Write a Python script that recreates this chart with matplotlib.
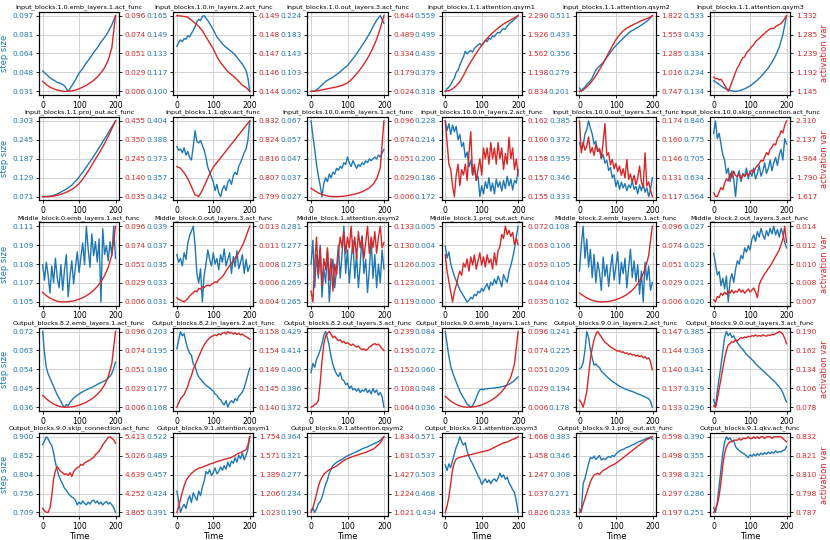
import numpy as np
import matplotlib
matplotlib.use("Agg")
import matplotlib.pyplot as plt
from matplotlib.ticker import FixedLocator, FixedFormatter

BLUE = "#1f77b4"
RED = "#d62728"

titles = [
    "Input_blocks.1.0.emb_layers.1.act_func", "Input_blocks.1.0.in_layers.2.act_func",
    "Input_blocks.1.0.out_layers.3.act_func", "Input_blocks.1.1.attention.qsym1",
    "Input_blocks.1.1.attention.qsym2", "Input_blocks.1.1.attention.qsym3",
    "Input_blocks.1.1.proj_out.act_func", "Input_blocks.1.1.qkv.act_func",
    "Input_blocks.10.0.emb_layers.1.act_func", "Input_blocks.10.0.in_layers.2.act_func",
    "Input_blocks.10.0.out_layers.3.act_func", "Input_blocks.10.0.skip_connection.act_func",
    "Middle_block.0.emb_layers.1.act_func", "Middle_block.0.out_layers.3.act_func",
    "Middle_block.1.attention.qsym2", "Middle_block.1.proj_out.act_func",
    "Middle_block.2.emb_layers.1.act_func", "Middle_block.2.out_layers.3.act_func",
    "Output_blocks.8.2.emb_layers.1.act_func", "Output_blocks.8.2.in_layers.2.act_func",
    "Output_blocks.8.2.out_layers.3.act_func", "Output_blocks.9.0.emb_layers.1.act_func",
    "Output_blocks.9.0.in_layers.2.act_func", "Output_blocks.9.0.out_layers.3.act_func",
    "Output_blocks.9.0.skip_connection.act_func", "Output_blocks.9.1.attention.qsym1",
    "Output_blocks.9.1.attention.qsym2", "Output_blocks.9.1.attention.qsym3",
    "Output_blocks.9.1.proj_out.act_func", "Output_blocks.9.1.qkv.act_func",
]

# ---------------- Row 1 ----------------
p01_step = [0.049, 0.046, 0.043, 0.041, 0.039, 0.038, 0.036, 0.0312, 0.036, 0.041, 0.047,
            0.051, 0.056, 0.060, 0.065, 0.069, 0.074, 0.078, 0.083, 0.089, 0.097]
p01_var = [0.018, 0.014, 0.011, 0.009, 0.0075, 0.0065, 0.006, 0.006, 0.0065, 0.0075, 0.009,
           0.011, 0.013, 0.016, 0.019, 0.023, 0.028, 0.034, 0.043, 0.058, 0.096]
p01_st = ["0.031", "0.048", "0.064", "0.081", "0.097"]
p01_vt = ["0.006", "0.029", "0.051", "0.074", "0.096"]

p02_step = [0.1390, 0.1420, 0.1445, 0.1430, 0.1455, 0.1450, 0.1480, 0.1470, 0.1500, 0.1525,
            0.1560, 0.1600, 0.1620, 0.1610, 0.1645, 0.1652, 0.1630, 0.1610, 0.1585, 0.1560,
            0.1530, 0.1500, 0.1470, 0.1450, 0.1430, 0.1410, 0.1395, 0.1380, 0.1370, 0.1355,
            0.1345, 0.1330, 0.1315, 0.1295, 0.1275, 0.1255, 0.1235, 0.1210, 0.1180, 0.1120, 0.1003]
p02_var = [0.1490, 0.14898, 0.14895, 0.1489, 0.1487, 0.1485, 0.1483, 0.1480, 0.1476, 0.1472,
           0.1468, 0.1463, 0.1459, 0.1456, 0.1453, 0.1451, 0.1449, 0.14465, 0.1444, 0.14425, 0.1440]
p02_st = ["0.100", "0.117", "0.133", "0.149", "0.165"]
p02_vt = ["0.144", "0.146", "0.147", "0.148", "0.149"]

p03_step = [0.0620, 0.0625, 0.068, 0.076, 0.083, 0.088, 0.092, 0.098, 0.104, 0.111, 0.117,
            0.127, 0.137, 0.148, 0.160, 0.172, 0.185, 0.200, 0.214, 0.224, 0.208]
p03_var = [0.024, 0.025, 0.030, 0.036, 0.042, 0.048, 0.054, 0.060, 0.068, 0.078, 0.093,
           0.118, 0.150, 0.185, 0.225, 0.270, 0.320, 0.380, 0.450, 0.540, 0.644]
p03_st = ["0.062", "0.103", "0.143", "0.183", "0.224"]
p03_vt = ["0.024", "0.179", "0.334", "0.489", "0.644"]

p04_step = [0.3180, 0.3260, 0.3320, 0.3390, 0.3520, 0.3600, 0.3780, 0.3850, 0.4010, 0.4150,
            0.4280, 0.4460, 0.4370, 0.4440, 0.4480, 0.4430, 0.4550, 0.4600, 0.4660, 0.4700,
            0.4640, 0.4720, 0.4810, 0.4760, 0.4870, 0.4840, 0.4950, 0.4920, 0.5010, 0.5060,
            0.5040, 0.5130, 0.5180, 0.5150, 0.5260, 0.5320, 0.5380, 0.5420, 0.5470, 0.5530, 0.5590]
p04_var = [0.834, 0.845, 0.880, 0.940, 1.020, 1.140, 1.280, 1.400, 1.510, 1.620, 1.720,
           1.810, 1.890, 1.960, 2.020, 2.080, 2.130, 2.170, 2.210, 2.250, 2.290]
p04_st = ["0.318", "0.379", "0.439", "0.499", "0.559"]
p04_vt = ["0.834", "1.198", "1.562", "1.926", "2.290"]

p05_step = [0.2150, 0.2010, 0.2120, 0.2180, 0.2300, 0.2360, 0.2440, 0.2560, 0.2720, 0.2880,
            0.2980, 0.3040, 0.3120, 0.3180, 0.3290, 0.3400, 0.3500, 0.3610, 0.3700, 0.3800,
            0.3880, 0.3960, 0.4040, 0.4110, 0.4180, 0.4260, 0.4320, 0.4400, 0.4460, 0.4500,
            0.4540, 0.4590, 0.4630, 0.4680, 0.4720, 0.4780, 0.4830, 0.4880, 0.4950, 0.5030, 0.5110]
p05_var = [0.747, 0.765, 0.810, 0.865, 0.930, 1.010, 1.100, 1.195, 1.290, 1.390, 1.480,
           1.550, 1.605, 1.645, 1.675, 1.700, 1.725, 1.750, 1.770, 1.790, 1.822]
p05_st = ["0.201", "0.279", "0.356", "0.433", "0.511"]
p05_vt = ["0.747", "1.016", "1.285", "1.553", "1.822"]

p06_step = [0.190, 0.178, 0.163, 0.150, 0.142, 0.136, 0.134, 0.137, 0.143, 0.152, 0.163,
            0.177, 0.193, 0.212, 0.234, 0.258, 0.287, 0.322, 0.367, 0.433, 0.533]
p06_var = [1.1800, 1.1760, 1.1770, 1.1730, 1.1750, 1.1680, 1.1600, 1.1530, 1.1450, 1.1550,
           1.1680, 1.1800, 1.1920, 1.2030, 1.2100, 1.2200, 1.2280, 1.2300, 1.2400, 1.2450,
           1.2500, 1.2560, 1.2600, 1.2680, 1.2720, 1.2760, 1.2800, 1.2850, 1.2880, 1.2930,
           1.2960, 1.2990, 1.3010, 1.3000, 1.3050, 1.3080, 1.3100, 1.3130, 1.3180, 1.3250, 1.3320]
p06_st = ["0.134", "0.234", "0.334", "0.433", "0.533"]
p06_vt = ["1.145", "1.192", "1.239", "1.285", "1.332"]

# ---------------- Row 2 ----------------
p07_step = [0.071, 0.0712, 0.072, 0.075, 0.079, 0.085, 0.091, 0.098, 0.106, 0.118, 0.131,
            0.146, 0.162, 0.178, 0.195, 0.212, 0.230, 0.248, 0.266, 0.285, 0.303]
p07_var = [0.035, 0.035, 0.036, 0.038, 0.042, 0.048, 0.055, 0.064, 0.075, 0.089, 0.107,
           0.132, 0.161, 0.193, 0.227, 0.260, 0.293, 0.330, 0.370, 0.412, 0.455]
p07_st = ["0.071", "0.129", "0.187", "0.245", "0.303"]
p07_vt = ["0.035", "0.140", "0.245", "0.350", "0.455"]

p08_step = [0.3830, 0.3800, 0.3810, 0.3780, 0.3820, 0.3760, 0.3790, 0.3740, 0.3720, 0.3830,
            0.3960, 0.3870, 0.3860, 0.3880, 0.3840, 0.3800, 0.3740, 0.3660, 0.3620, 0.3580,
            0.3540, 0.3470, 0.3520, 0.3450, 0.3420, 0.3480, 0.3510, 0.3470, 0.3540, 0.3560,
            0.3520, 0.3590, 0.3620, 0.3600, 0.3670, 0.3700, 0.3740, 0.3780, 0.3810, 0.3880, 0.4040]
p08_var = [0.8122, 0.8115, 0.8095, 0.8070, 0.8035, 0.8000, 0.7992, 0.8020, 0.8055, 0.8090,
           0.8120, 0.8140, 0.8160, 0.8180, 0.8200, 0.8220, 0.8240, 0.8260, 0.8280, 0.8300, 0.8320]
p08_st = ["0.342", "0.357", "0.373", "0.388", "0.404"]
p08_vt = ["0.799", "0.807", "0.816", "0.824", "0.832"]

p09_step = [0.0670, 0.0590, 0.0520, 0.0440, 0.0380, 0.0330, 0.0271, 0.0340, 0.0370, 0.0350,
            0.0390, 0.0370, 0.0400, 0.0390, 0.0420, 0.0410, 0.0430, 0.0420, 0.0450, 0.0440,
            0.0480, 0.0450, 0.0430, 0.0460, 0.0440, 0.0420, 0.0440, 0.0430, 0.0450, 0.0440,
            0.0460, 0.0450, 0.0470, 0.0460, 0.0470, 0.0480, 0.0470, 0.0490, 0.0480, 0.0500, 0.0520]
p09_var = [0.0160, 0.0130, 0.0105, 0.0085, 0.0072, 0.0064, 0.0060, 0.0060, 0.0062, 0.0066,
           0.0072, 0.0080, 0.0090, 0.0102, 0.0118, 0.0138, 0.0165, 0.0205, 0.0270, 0.0400, 0.0960]
p09_st = ["0.027", "0.037", "0.047", "0.057", "0.067"]
p09_vt = ["0.006", "0.029", "0.051", "0.074", "0.096"]

p10_step = [0.2280, 0.2210, 0.2260, 0.2180, 0.2250, 0.2200, 0.2240, 0.2140, 0.2180, 0.2090,
            0.2120, 0.2010, 0.2050, 0.1940, 0.1990, 0.1880, 0.1930, 0.1840, 0.1870, 0.1720,
            0.1800, 0.1740, 0.1830, 0.1780, 0.1860, 0.1760, 0.1820, 0.1740, 0.1850, 0.1790,
            0.1830, 0.1760, 0.1840, 0.1780, 0.1870, 0.1800, 0.1850, 0.1770, 0.1840, 0.1820, 0.1920]
p10_var = [0.1620, 0.1600, 0.1580, 0.1575, 0.1560, 0.1550, 0.1570, 0.1580, 0.1560, 0.1575,
           0.1570, 0.1580, 0.1565, 0.1590, 0.1610, 0.1570, 0.1580, 0.1565, 0.1575, 0.1585,
           0.1570, 0.1595, 0.1585, 0.1595, 0.1580, 0.1600, 0.1585, 0.1595, 0.1580, 0.1600,
           0.1585, 0.1595, 0.1575, 0.1590, 0.1580, 0.1605, 0.1585, 0.1595, 0.1575, 0.1585, 0.1570]
p10_st = ["0.172", "0.186", "0.200", "0.214", "0.228"]
p10_vt = ["0.155", "0.157", "0.158", "0.160", "0.162"]

p11_step = [0.3700, 0.3660, 0.3680, 0.3760, 0.3790, 0.3850, 0.3800, 0.3760, 0.3690, 0.3710,
            0.3640, 0.3660, 0.3590, 0.3620, 0.3560, 0.3580, 0.3510, 0.3530, 0.3460, 0.3480,
            0.3400, 0.3440, 0.3380, 0.3430, 0.3390, 0.3420, 0.3370, 0.3410, 0.3390, 0.3440,
            0.3380, 0.3400, 0.3350, 0.3410, 0.3370, 0.3420, 0.3360, 0.3390, 0.3330, 0.3380, 0.3460]
p11_var = [0.174, 0.150, 0.158, 0.152, 0.155, 0.162, 0.150, 0.154, 0.148, 0.156,
           0.151, 0.153, 0.146, 0.158, 0.172, 0.148, 0.150, 0.141, 0.145, 0.138,
           0.142, 0.136, 0.140, 0.133, 0.138, 0.131, 0.145, 0.130, 0.134, 0.128,
           0.133, 0.126, 0.131, 0.140, 0.128, 0.124, 0.150, 0.125, 0.128, 0.122, 0.117]
p11_st = ["0.333", "0.346", "0.359", "0.372", "0.385"]
p11_vt = ["0.117", "0.131", "0.146", "0.160", "0.174"]

p12_step = [0.800, 0.846, 0.780, 0.800, 0.760, 0.720, 0.700, 0.650, 0.670, 0.620,
            0.660, 0.630, 0.564, 0.640, 0.660, 0.620, 0.650, 0.640, 0.670, 0.630,
            0.660, 0.640, 0.670, 0.630, 0.650, 0.680, 0.640, 0.660, 0.690, 0.650,
            0.670, 0.700, 0.660, 0.690, 0.710, 0.680, 0.720, 0.740, 0.700, 0.780, 0.760]
p12_var = [1.650, 1.620, 1.617, 1.660, 1.700, 1.680, 1.740, 1.780, 1.760, 1.830,
           1.790, 1.850, 1.810, 1.800, 1.820, 1.780, 1.820, 1.800, 1.830, 1.810,
           1.840, 1.860, 1.840, 1.880, 1.900, 1.920, 1.950, 1.940, 1.980, 2.020,
           2.000, 2.050, 2.070, 2.100, 2.090, 2.150, 2.170, 2.220, 2.200, 2.270, 2.310]
p12_st = ["0.564", "0.634", "0.705", "0.775", "0.846"]
p12_vt = ["1.617", "1.790", "1.964", "2.137", "2.310"]

# ---------------- Row 3 ----------------
p13_step = [0.1080, 0.1068, 0.1082, 0.1072, 0.1058, 0.1079, 0.1066, 0.1085, 0.1070, 0.1062,
            0.1080, 0.1060, 0.1076, 0.1088, 0.1055, 0.1071, 0.1083, 0.1065, 0.1078, 0.1090,
            0.1074, 0.1086, 0.1097, 0.1080, 0.1110, 0.1092, 0.1078, 0.1104, 0.1087, 0.1098,
            0.1082, 0.1100, 0.1051, 0.1108, 0.1088, 0.1095, 0.1083, 0.1098, 0.1087, 0.1110, 0.1085]
p13_var = [0.0175, 0.0135, 0.0105, 0.0083, 0.0068, 0.0061, 0.0060, 0.0062, 0.0068, 0.0078,
           0.0092, 0.0110, 0.0133, 0.0162, 0.0198, 0.0243, 0.0300, 0.0372, 0.0470, 0.0620, 0.0960]
p13_st = ["0.105", "0.107", "0.108", "0.109", "0.111"]
p13_vt = ["0.006", "0.029", "0.051", "0.074", "0.096"]

p14_step = [0.0360, 0.0352, 0.0356, 0.0348, 0.0362, 0.0355, 0.0372, 0.0380, 0.0385, 0.0390,
            0.0370, 0.0340, 0.0330, 0.0345, 0.0310, 0.0338, 0.0350, 0.0365, 0.0355, 0.0348,
            0.0362, 0.0350, 0.0356, 0.0344, 0.0360, 0.0352, 0.0366, 0.0348, 0.0355, 0.0362,
            0.0340, 0.0358, 0.0347, 0.0364, 0.0345, 0.0352, 0.0360, 0.0340, 0.0355, 0.0342, 0.0348]
p14_var = [0.0045, 0.0043, 0.0042, 0.0041, 0.0040, 0.0042, 0.0044, 0.0047, 0.0049, 0.0051,
           0.0053, 0.0052, 0.0056, 0.0055, 0.0058, 0.0057, 0.0059, 0.0060, 0.0059, 0.0061,
           0.0062, 0.0064, 0.0063, 0.0066, 0.0068, 0.0070, 0.0073, 0.0077, 0.0080, 0.0083,
           0.0086, 0.0089, 0.0092, 0.0095, 0.0099, 0.0103, 0.0107, 0.0112, 0.0118, 0.0124, 0.0130]
p14_st = ["0.031", "0.033", "0.035", "0.037", "0.039"]
p14_vt = ["0.004", "0.006", "0.008", "0.011", "0.013"]

p15_step = [0.2730, 0.2780, 0.2680, 0.2750, 0.2700, 0.2770, 0.2660, 0.2720, 0.2690, 0.2760,
            0.2650, 0.2710, 0.2740, 0.2680, 0.2720, 0.2770, 0.2700, 0.2750, 0.2810, 0.2710,
            0.2760, 0.2690, 0.2740, 0.2780, 0.2700, 0.2750, 0.2680, 0.2730, 0.2790, 0.2710,
            0.2740, 0.2670, 0.2720, 0.2780, 0.2700, 0.2750, 0.2680, 0.2730, 0.2690, 0.2760, 0.2720]
p15_var = [0.121, 0.119, 0.126, 0.131, 0.124, 0.129, 0.122, 0.127, 0.125, 0.129,
           0.123, 0.127, 0.121, 0.126, 0.124, 0.128, 0.131, 0.129, 0.132, 0.128,
           0.131, 0.129, 0.133, 0.128, 0.131, 0.127, 0.132, 0.129, 0.131, 0.127,
           0.130, 0.133, 0.128, 0.131, 0.129, 0.132, 0.128, 0.131, 0.133, 0.129, 0.130]
p15_st = ["0.265", "0.269", "0.273", "0.277", "0.281"]
p15_vt = ["0.119", "0.123", "0.126", "0.130", "0.133"]

p16_step = [0.0038, 0.0030, 0.0034, 0.0026, 0.0022, 0.0018, 0.0015, 0.0012, 0.0009, 0.0007,
            0.0005, 0.0003, 0.0001, 0.0002, 0.0004, 0.0003, 0.0006, 0.0005, 0.0008, 0.0007,
            0.0010, 0.0008, 0.0011, 0.0013, 0.0009, 0.0014, 0.0012, 0.0016, 0.0013, 0.0018,
            0.0015, 0.0011, 0.0019, 0.0016, 0.0014, 0.0021, 0.0025, 0.0030, 0.0036, 0.0044, 0.0051]
p16_var = [0.058, 0.050, 0.045, 0.040, 0.035, 0.040, 0.043, 0.047, 0.050, 0.048,
           0.054, 0.052, 0.056, 0.050, 0.057, 0.053, 0.058, 0.051, 0.055, 0.059,
           0.053, 0.057, 0.052, 0.058, 0.054, 0.056, 0.051, 0.059, 0.053, 0.060,
           0.062, 0.068, 0.066, 0.072, 0.068, 0.070, 0.067, 0.069, 0.063, 0.066, 0.063]
p16_st = ["0.000", "0.001", "0.003", "0.004", "0.005"]
p16_vt = ["0.035", "0.044", "0.053", "0.063", "0.072"]

p17_step = [0.1045, 0.1065, 0.1080, 0.1055, 0.1070, 0.1048, 0.1062, 0.1040, 0.1058, 0.1036,
            0.1052, 0.1044, 0.1030, 0.1056, 0.1041, 0.1050, 0.1033, 0.1047, 0.1058, 0.1038,
            0.1049, 0.1060, 0.1035, 0.1052, 0.1043, 0.1055, 0.1032, 0.1048, 0.1062, 0.1040,
            0.1053, 0.1037, 0.1050, 0.1027, 0.1045, 0.1021, 0.1052, 0.1038, 0.1049, 0.1030, 0.1036]
p17_var = [0.0165, 0.0135, 0.0108, 0.0087, 0.0072, 0.0063, 0.0060, 0.0061, 0.0066, 0.0074,
           0.0086, 0.0102, 0.0122, 0.0147, 0.0180, 0.0222, 0.0277, 0.0350, 0.0450, 0.0610, 0.0960]
p17_st = ["0.102", "0.104", "0.105", "0.106", "0.108"]
p17_vt = ["0.006", "0.029", "0.051", "0.074", "0.096"]

p18_step = [0.0245, 0.0235, 0.0225, 0.0228, 0.0215, 0.0222, 0.0212, 0.0224, 0.0200, 0.0220,
            0.0226, 0.0218, 0.0230, 0.0238, 0.0235, 0.0243, 0.0240, 0.0250, 0.0246, 0.0252,
            0.0248, 0.0258, 0.0262, 0.0256, 0.0265, 0.0260, 0.0268, 0.0262, 0.0258, 0.0266,
            0.0261, 0.0268, 0.0263, 0.0270, 0.0262, 0.0267, 0.0260, 0.0268, 0.0263, 0.0255, 0.0250]
p18_var = [0.0072, 0.0070, 0.0075, 0.0074, 0.0078, 0.0076, 0.0079, 0.0077, 0.0080, 0.0078,
           0.0081, 0.0078, 0.0080, 0.0079, 0.0082, 0.0079, 0.0081, 0.0078, 0.0080, 0.0082,
           0.0079, 0.0081, 0.0083, 0.0079, 0.0074, 0.0086, 0.0090, 0.0093, 0.0096, 0.0098,
           0.0101, 0.0103, 0.0106, 0.0109, 0.0112, 0.0115, 0.0118, 0.0123, 0.0128, 0.0140, 0.0125]
p18_st = ["0.020", "0.021", "0.023", "0.025", "0.027"]
p18_vt = ["0.007", "0.008", "0.010", "0.012", "0.014"]

# ---------------- Row 4 ----------------
p19_step = [0.0720, 0.0620, 0.0550, 0.0520, 0.0500, 0.0480, 0.0460, 0.0440, 0.0420, 0.0405,
            0.0390, 0.0372, 0.0362, 0.0375, 0.0368, 0.0385, 0.0395, 0.0405, 0.0412, 0.0418,
            0.0425, 0.0430, 0.0435, 0.0440, 0.0444, 0.0448, 0.0452, 0.0456, 0.0460, 0.0464,
            0.0470, 0.0474, 0.0478, 0.0482, 0.0487, 0.0492, 0.0500, 0.0508, 0.0522, 0.0545, 0.0575]
p19_var = [0.0200, 0.0160, 0.0125, 0.0098, 0.0078, 0.0066, 0.0060, 0.0060, 0.0064, 0.0072,
           0.0084, 0.0100, 0.0120, 0.0145, 0.0175, 0.0212, 0.0260, 0.0325, 0.0420, 0.0580, 0.0960]
p19_st = ["0.036", "0.045", "0.054", "0.063", "0.072"]
p19_vt = ["0.006", "0.029", "0.051", "0.074", "0.096"]

p20_step = [0.1950, 0.1990, 0.2030, 0.2010, 0.2020, 0.1980, 0.1950, 0.1930, 0.1920, 0.1880,
            0.1870, 0.1840, 0.1820, 0.1810, 0.1800, 0.1790, 0.1780, 0.1775, 0.1770, 0.1760,
            0.1755, 0.1740, 0.1735, 0.1720, 0.1715, 0.1700, 0.1690, 0.1710, 0.1680, 0.1700,
            0.1710, 0.1700, 0.1720, 0.1710, 0.1730, 0.1740, 0.1750, 0.1770, 0.1800, 0.1830, 0.1860]
p20_var = [0.1400, 0.1410, 0.1420, 0.1425, 0.1430, 0.1440, 0.1450, 0.1465, 0.1475, 0.1490,
           0.1500, 0.1510, 0.1520, 0.1530, 0.1540, 0.1548, 0.1555, 0.1560, 0.1565, 0.1568,
           0.1570, 0.1572, 0.1570, 0.1575, 0.1572, 0.1576, 0.1578, 0.1574, 0.1580, 0.1576,
           0.1578, 0.1574, 0.1577, 0.1573, 0.1576, 0.1572, 0.1574, 0.1570, 0.1568, 0.1565, 0.1562]
p20_st = ["0.168", "0.177", "0.186", "0.195", "0.203"]
p20_vt = ["0.140", "0.145", "0.149", "0.154", "0.158"]

p21_step = [0.398, 0.405, 0.402, 0.408, 0.411, 0.415, 0.420, 0.426, 0.429, 0.424,
            0.418, 0.410, 0.404, 0.400, 0.397, 0.395, 0.398, 0.393, 0.392, 0.389,
            0.390, 0.386, 0.388, 0.385, 0.386, 0.384, 0.386, 0.383, 0.385, 0.384,
            0.386, 0.383, 0.385, 0.382, 0.386, 0.383, 0.385, 0.381, 0.383, 0.380, 0.372]
p21_var = [0.064, 0.066, 0.070, 0.072, 0.080, 0.120, 0.170, 0.210, 0.228, 0.235,
           0.239, 0.233, 0.225, 0.228, 0.222, 0.218, 0.220, 0.214, 0.216, 0.211,
           0.213, 0.210, 0.207, 0.210, 0.206, 0.203, 0.205, 0.200, 0.197, 0.199,
           0.195, 0.198, 0.203, 0.206, 0.209, 0.211, 0.208, 0.210, 0.205, 0.199, 0.195]
p21_st = ["0.372", "0.386", "0.400", "0.414", "0.429"]
p21_vt = ["0.064", "0.108", "0.152", "0.195", "0.239"]

p22_step = [0.0840, 0.0760, 0.0680, 0.0620, 0.0580, 0.0550, 0.0520, 0.0490, 0.0460, 0.0440,
            0.0420, 0.0400, 0.0380, 0.0370, 0.0360, 0.0370, 0.0390, 0.0420, 0.0450, 0.0470,
            0.0475, 0.0470, 0.0478, 0.0475, 0.0480, 0.0478, 0.0482, 0.0480, 0.0485, 0.0484,
            0.0487, 0.0490, 0.0492, 0.0496, 0.0500, 0.0505, 0.0512, 0.0520, 0.0530, 0.0540, 0.0552]
p22_var = [0.0190, 0.0150, 0.0118, 0.0093, 0.0075, 0.0064, 0.0060, 0.0061, 0.0066, 0.0075,
           0.0088, 0.0105, 0.0126, 0.0152, 0.0184, 0.0222, 0.0270, 0.0332, 0.0420, 0.0570, 0.0960]
p22_st = ["0.036", "0.048", "0.060", "0.072", "0.084"]
p22_vt = ["0.006", "0.029", "0.051", "0.074", "0.096"]

p23_step = [0.2100, 0.2110, 0.2150, 0.2250, 0.2410, 0.2360, 0.2260, 0.2190, 0.2130, 0.2140,
            0.2120, 0.2110, 0.2080, 0.2065, 0.2050, 0.2035, 0.2020, 0.2008, 0.1995, 0.1985,
            0.1975, 0.1965, 0.1955, 0.1948, 0.1940, 0.1932, 0.1925, 0.1920, 0.1915, 0.1910,
            0.1905, 0.1898, 0.1890, 0.1885, 0.1880, 0.1872, 0.1865, 0.1858, 0.1850, 0.1830, 0.1780]
p23_var = [0.1345, 0.1340, 0.1332, 0.1345, 0.1360, 0.1390, 0.1420, 0.1440, 0.1455, 0.1465,
           0.1470, 0.1465, 0.1460, 0.1455, 0.1450, 0.1448, 0.1445, 0.1442, 0.1440, 0.1438,
           0.1436, 0.1434, 0.1435, 0.1432, 0.1433, 0.1430, 0.1431, 0.1428, 0.1430, 0.1427,
           0.1428, 0.1425, 0.1427, 0.1424, 0.1426, 0.1422, 0.1424, 0.1420, 0.1422, 0.1415, 0.1400]
p23_st = ["0.178", "0.194", "0.209", "0.225", "0.241"]
p23_vt = ["0.133", "0.137", "0.140", "0.144", "0.147"]

p24_step = [0.305, 0.296, 0.315, 0.330, 0.345, 0.362, 0.378, 0.385, 0.380, 0.383,
            0.378, 0.380, 0.375, 0.372, 0.369, 0.366, 0.364, 0.361, 0.358, 0.356,
            0.354, 0.352, 0.350, 0.347, 0.345, 0.343, 0.341, 0.339, 0.337, 0.335,
            0.333, 0.331, 0.329, 0.327, 0.325, 0.322, 0.320, 0.317, 0.313, 0.307, 0.302]
p24_var = [0.080, 0.078, 0.090, 0.105, 0.120, 0.135, 0.150, 0.162, 0.170, 0.172,
           0.175, 0.174, 0.178, 0.176, 0.179, 0.181, 0.180, 0.182, 0.181, 0.183,
           0.182, 0.184, 0.183, 0.185, 0.183, 0.184, 0.183, 0.185, 0.184, 0.183,
           0.185, 0.184, 0.186, 0.185, 0.187, 0.188, 0.190, 0.189, 0.186, 0.180, 0.172]
p24_st = ["0.296", "0.319", "0.341", "0.363", "0.385"]
p24_vt = ["0.078", "0.106", "0.134", "0.162", "0.190"]

# ---------------- Row 5 ----------------
p25_step = [0.880, 0.890, 0.900, 0.895, 0.885, 0.878, 0.860, 0.835, 0.815, 0.800,
            0.790, 0.780, 0.770, 0.765, 0.758, 0.752, 0.748, 0.745, 0.740, 0.728,
            0.735, 0.730, 0.738, 0.732, 0.728, 0.735, 0.730, 0.738, 0.740, 0.733,
            0.738, 0.730, 0.735, 0.728, 0.733, 0.737, 0.730, 0.734, 0.728, 0.722, 0.709]
p25_var = [3.950, 3.900, 3.870, 3.865, 3.950, 4.200, 4.550, 4.720, 4.800, 4.750,
           4.700, 4.680, 4.640, 4.660, 4.620, 4.680, 4.600, 4.700, 4.750, 4.780,
           4.800, 4.850, 4.830, 4.880, 4.900, 4.920, 4.940, 4.970, 4.990, 5.050,
           5.080, 5.120, 5.180, 5.250, 5.300, 5.350, 5.400, 5.413, 5.380, 5.350, 5.280]
p25_st = ["0.709", "0.756", "0.804", "0.852", "0.900"]
p25_vt = ["3.865", "4.252", "4.639", "5.026", "5.413"]

p26_step = [0.428, 0.410, 0.391, 0.400, 0.405, 0.398, 0.412, 0.420, 0.408, 0.425,
            0.418, 0.412, 0.428, 0.420, 0.435, 0.445, 0.462, 0.458, 0.465, 0.455,
            0.460, 0.468, 0.458, 0.462, 0.470, 0.464, 0.472, 0.466, 0.478, 0.470,
            0.480, 0.476, 0.486, 0.478, 0.490, 0.484, 0.494, 0.482, 0.490, 0.500, 0.522]
p26_var = [1.023, 1.080, 1.150, 1.220, 1.280, 1.330, 1.360, 1.380, 1.400, 1.415,
           1.430, 1.440, 1.450, 1.455, 1.460, 1.468, 1.475, 1.482, 1.490, 1.495,
           1.500, 1.508, 1.515, 1.520, 1.525, 1.530, 1.535, 1.540, 1.545, 1.550,
           1.555, 1.565, 1.575, 1.585, 1.595, 1.602, 1.610, 1.620, 1.630, 1.670, 1.754]
p26_st = ["0.391", "0.424", "0.457", "0.489", "0.522"]
p26_vt = ["1.023", "1.206", "1.389", "1.571", "1.754"]

p27_step = [0.195, 0.200, 0.190, 0.198, 0.210, 0.215, 0.225, 0.240, 0.255, 0.265,
            0.280, 0.290, 0.298, 0.302, 0.305, 0.308, 0.310, 0.312, 0.315, 0.318,
            0.320, 0.322, 0.324, 0.326, 0.328, 0.330, 0.332, 0.334, 0.336, 0.338,
            0.339, 0.341, 0.343, 0.345, 0.347, 0.349, 0.351, 0.353, 0.356, 0.360, 0.364]
p27_var = [1.021, 1.070, 1.140, 1.220, 1.300, 1.360, 1.400, 1.430, 1.450, 1.465,
           1.480, 1.490, 1.500, 1.510, 1.520, 1.535, 1.550, 1.565, 1.580, 1.590,
           1.600, 1.608, 1.615, 1.622, 1.630, 1.635, 1.640, 1.648, 1.655, 1.660,
           1.665, 1.675, 1.685, 1.692, 1.700, 1.715, 1.730, 1.750, 1.770, 1.800, 1.834]
p27_st = ["0.190", "0.234", "0.277", "0.321", "0.364"]
p27_vt = ["1.021", "1.224", "1.427", "1.631", "1.834"]

p28_step = [0.520, 0.510, 0.522, 0.515, 0.528, 0.540, 0.552, 0.560, 0.571, 0.562,
            0.556, 0.560, 0.545, 0.535, 0.528, 0.522, 0.515, 0.508, 0.500, 0.495,
            0.485, 0.490, 0.495, 0.488, 0.493, 0.486, 0.492, 0.495, 0.490, 0.496,
            0.505, 0.498, 0.502, 0.494, 0.498, 0.488, 0.482, 0.475, 0.470, 0.455, 0.434]
p28_var = [0.826, 0.900, 1.000, 1.150, 1.300, 1.380, 1.420, 1.430, 1.440, 1.445,
           1.450, 1.455, 1.460, 1.465, 1.470, 1.475, 1.480, 1.485, 1.490, 1.495,
           1.500, 1.505, 1.510, 1.515, 1.520, 1.530, 1.540, 1.550, 1.560, 1.570,
           1.580, 1.590, 1.600, 1.605, 1.610, 1.620, 1.630, 1.640, 1.645, 1.655, 1.668]
p28_st = ["0.434", "0.468", "0.503", "0.537", "0.571"]
p28_vt = ["0.826", "1.037", "1.247", "1.458", "1.668"]

p29_step = [0.240, 0.233, 0.290, 0.300, 0.315, 0.330, 0.342, 0.340, 0.345, 0.338,
            0.342, 0.346, 0.337, 0.340, 0.338, 0.341, 0.344, 0.342, 0.346, 0.344,
            0.349, 0.352, 0.355, 0.357, 0.358, 0.360, 0.362, 0.363, 0.365, 0.367,
            0.368, 0.370, 0.372, 0.374, 0.375, 0.377, 0.378, 0.380, 0.381, 0.383, 0.378]
p29_var = [0.197, 0.210, 0.240, 0.270, 0.300, 0.330, 0.360, 0.380, 0.395, 0.400,
           0.405, 0.398, 0.410, 0.420, 0.425, 0.430, 0.438, 0.443, 0.447, 0.452,
           0.458, 0.465, 0.472, 0.480, 0.487, 0.495, 0.502, 0.510, 0.518, 0.525,
           0.533, 0.540, 0.548, 0.555, 0.563, 0.570, 0.578, 0.583, 0.588, 0.593, 0.598]
p29_st = ["0.233", "0.271", "0.308", "0.346", "0.383"]
p29_vt = ["0.197", "0.297", "0.398", "0.498", "0.598"]

p30_step = [0.260, 0.251, 0.270, 0.300, 0.330, 0.360, 0.380, 0.390, 0.385, 0.388,
            0.382, 0.383, 0.372, 0.368, 0.365, 0.362, 0.360, 0.358, 0.355, 0.352,
            0.357, 0.354, 0.358, 0.355, 0.359, 0.356, 0.360, 0.357, 0.361, 0.358,
            0.362, 0.359, 0.362, 0.360, 0.364, 0.361, 0.363, 0.362, 0.365, 0.366, 0.372]
p30_var = [0.787, 0.789, 0.792, 0.797, 0.805, 0.815, 0.822, 0.826, 0.828, 0.829,
           0.829, 0.830, 0.830, 0.830, 0.831, 0.830, 0.831, 0.831, 0.831, 0.832,
           0.831, 0.831, 0.832, 0.831, 0.832, 0.831, 0.832, 0.832, 0.831, 0.832,
           0.832, 0.832, 0.831, 0.832, 0.832, 0.832, 0.832, 0.832, 0.831, 0.830, 0.829]
p30_st = ["0.251", "0.286", "0.321", "0.355", "0.390"]
p30_vt = ["0.787", "0.798", "0.810", "0.821", "0.832"]

panels = [
    (p01_step, p01_var, p01_st, p01_vt), (p02_step, p02_var, p02_st, p02_vt),
    (p03_step, p03_var, p03_st, p03_vt), (p04_step, p04_var, p04_st, p04_vt),
    (p05_step, p05_var, p05_st, p05_vt), (p06_step, p06_var, p06_st, p06_vt),
    (p07_step, p07_var, p07_st, p07_vt), (p08_step, p08_var, p08_st, p08_vt),
    (p09_step, p09_var, p09_st, p09_vt), (p10_step, p10_var, p10_st, p10_vt),
    (p11_step, p11_var, p11_st, p11_vt), (p12_step, p12_var, p12_st, p12_vt),
    (p13_step, p13_var, p13_st, p13_vt), (p14_step, p14_var, p14_st, p14_vt),
    (p15_step, p15_var, p15_st, p15_vt), (p16_step, p16_var, p16_st, p16_vt),
    (p17_step, p17_var, p17_st, p17_vt), (p18_step, p18_var, p18_st, p18_vt),
    (p19_step, p19_var, p19_st, p19_vt), (p20_step, p20_var, p20_st, p20_vt),
    (p21_step, p21_var, p21_st, p21_vt), (p22_step, p22_var, p22_st, p22_vt),
    (p23_step, p23_var, p23_st, p23_vt), (p24_step, p24_var, p24_st, p24_vt),
    (p25_step, p25_var, p25_st, p25_vt), (p26_step, p26_var, p26_st, p26_vt),
    (p27_step, p27_var, p27_st, p27_vt), (p28_step, p28_var, p28_st, p28_vt),
    (p29_step, p29_var, p29_st, p29_vt), (p30_step, p30_var, p30_st, p30_vt),
]

fig, axes = plt.subplots(5, 6, figsize=(8.3, 5.4), dpi=100)
fig.subplots_adjust(left=0.047, right=0.952, top=0.978, bottom=0.044,
                    wspace=0.675, hspace=0.265)

TICK_FS = 5.3
for i, ax in enumerate(axes.flat):
    step, var, st, vt = panels[i]
    row, col = divmod(i, 6)
    xs = np.linspace(0, 199, len(step))
    xv = np.linspace(0, 199, len(var))
    ax.plot(xs, step, color=BLUE, lw=1.0)
    ax2 = ax.twinx()
    ax2.plot(xv, var, color=RED, lw=1.0)

    ax.set_xticks([0, 100, 200])
    ax.grid(True, color="#cccccc", lw=0.6)
    ax.set_axisbelow(True)

    ax.yaxis.set_major_locator(FixedLocator(np.linspace(min(step), max(step), 5)))
    ax.yaxis.set_major_formatter(FixedFormatter(st))
    ax2.yaxis.set_major_locator(FixedLocator(np.linspace(min(var), max(var), 5)))
    ax2.yaxis.set_major_formatter(FixedFormatter(vt))

    ax.tick_params(axis="y", labelcolor=BLUE, labelsize=TICK_FS, length=2.5, width=0.6, pad=1.5)
    ax.tick_params(axis="x", labelsize=TICK_FS + 0.3, length=2.5, width=0.6, pad=1.5)
    ax2.tick_params(axis="y", labelcolor=RED, labelsize=TICK_FS, length=2.5, width=0.6, pad=1.5)

    ax.set_title(titles[i], fontsize=4.6, pad=2.5)
    if col == 0:
        ax.set_ylabel("step size", color=BLUE, fontsize=6, labelpad=2)
    if col == 5:
        ax2.set_ylabel("activation var", color=RED, fontsize=6, labelpad=2)
    if row == 4:
        ax.set_xlabel("Time", fontsize=6, labelpad=1)

fig.savefig("out.png", dpi=100)
